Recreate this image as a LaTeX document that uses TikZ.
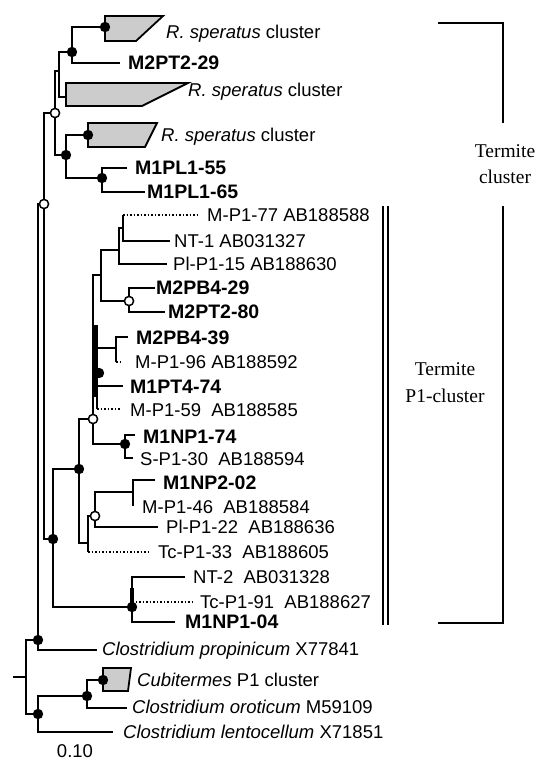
\documentclass[tikz,border=0pt]{standalone}
\usepackage{fontspec}
\setmainfont{Liberation Serif}
\newfontfamily\arialf{Liberation Sans}
\begin{document}
\begin{tikzpicture}[x=1pt,y=-1pt,
  br/.style={line width=2pt, line join=miter},
  dt/.style={line width=1.5pt, dotted},
  clade/.style={line width=1.8pt, fill=black!20, line join=miter},
  bk/.style={line width=1.6pt},
  lbl/.style={anchor=base west, inner sep=0pt, font=\arialf\fontsize{18.5}{20}\selectfont},
  blbl/.style={anchor=base west, inner sep=0pt, font=\arialf\bfseries\fontsize{19.5}{21}\selectfont},
  tms/.style={anchor=base, inner sep=0pt, font=\fontsize{19.5}{22}\selectfont},
  fdot/.style={fill=black},
  odot/.style={fill=white, draw=black, line width=1.5pt}]
\useasboundingbox (0,0) rectangle (541,761);

% ---------- Termite cluster part ----------
\draw[br] (105,27)--(72,27)--(72,63)--(120,63);
\draw[br] (72,52)--(59,52)--(59,97)--(66,97);
\draw[br] (59,71)--(55,71)--(55,155)--(66,155);
\draw[br] (88,135)--(66,135)--(66,178)--(102,178);
\draw[br] (127,168)--(102,168)--(102,192)--(145,192);
\draw[br] (55,113)--(44,113)--(44,539)--(53,539);
\draw[br] (79,469)--(53,469)--(53,607)--(132,607);
\draw[br] (44,204)--(38,204)--(38,650)--(97,650);
\draw[br] (38,640)--(26,640)--(26,714)--(38,714);
\draw[br] (13,677)--(26,677);
\draw[br] (87,696)--(38,696)--(38,732)--(113,732);
\draw[br] (103,680)--(87,680)--(87,708)--(127,708);

% ---------- P1 cluster ----------
\draw[br] (93,419)--(79,419)--(79,543)--(88,543);
\draw[br] (101,275)--(93,275)--(93,444)--(125,444);
\draw[br] (119,250)--(101,250)--(101,301)--(129,301);
\draw[br] (123,228)--(119,228)--(119,264)--(167,264);
\draw[br] (123,215)--(123,241)--(170,241);
\draw[dt] (123,215)--(198,215);
\draw[br] (155,288)--(129,288)--(129,312)--(165,312);
\draw[br] (97,348)--(97,409);
\draw[br] (97,348)--(116,348);
\draw[br] (128,337)--(116,337)--(116,362);
\draw[dt] (116,362)--(123,362);
\draw[br] (97,386)--(123,386);
\draw[dt] (97,409)--(120,409);
\fill (91.5,325) rectangle (97.5,397);
\draw[br] (135,435)--(125,435)--(125,458)--(133,458);
\draw[br] (95,516)--(88,516)--(88,552);
\draw[dt] (88,552)--(150,552);
\draw[br] (155,480)--(133,480)--(133,506);
\draw[br] (133,492)--(95,492)--(95,527)--(158,527);
\draw[br] (185,577)--(132,577)--(132,622)--(175,622);
\draw[line width=3.5pt] (132,588)--(132,603);
\draw[dt] (132,602)--(192,602);

% ---------- collapsed clades ----------
\draw[clade] (105,16)--(163,16)--(136,41)--(105,41)--cycle;
\draw[clade] (66,83)--(188,83)--(142,106)--(66,106)--cycle;
\draw[clade] (88,123)--(157,123)--(145,147)--(88,147)--cycle;
\draw[clade] (103,668)--(131,668)--(128,691)--(103,691)--cycle;

% ---------- node markers ----------
\foreach \p in {(105,27),(72,52),(66,155),(88,135),(102,178),(53,539),(79,469),(132,607),(38,640),(38,714),(87,696),(103,680),(99,373),(125,444)}
  \fill[fdot] \p circle (5.2);
\foreach \p in {(55,113),(44,204),(93,419),(129,301),(95,516)}
  \draw[odot] \p circle (4.6);

% ---------- labels ----------
\node[lbl] (rs1) at (166,38.5) {\itshape R. speratus\upshape{} cluster};
\node[lbl] (rs2) at (188,96.5) {\itshape R. speratus\upshape{} cluster};
\node[lbl] (rs3) at (161,141.5) {\itshape R. speratus\upshape{} cluster};
\node[blbl] (m2pt229) at (128,69.8) {M2PT2-29};
\node[blbl] (m1pl155) at (135,174.8) {M1PL1-55};
\node[blbl] (m1pl165) at (147,198.8) {M1PL1-65};
\node[lbl] (mp177) at (207,221.5) {M-P1-77 AB188588};
\node[lbl] (nt1) at (174,247.5) {NT-1 AB031327};
\node[lbl] (plp115) at (173,270.5) {Pl-P1-15 AB188630};
\node[blbl] (m2pb429) at (156,294.8) {M2PB4-29};
\node[blbl] (m2pt280) at (168,318.8) {M2PT2-80};
\node[blbl] (m2pb439) at (136,344.8) {M2PB4-39};
\node[lbl] (mp196) at (135,368.5) {M-P1-96 AB188592};
\node[blbl] (m1pt474) at (130,393.8) {M1PT4-74};
\node[lbl] (mp159) at (130,416.5) {M-P1-59\ \ AB188585};
\node[blbl] (m1np174) at (143,443.8) {M1NP1-74};
\node[lbl] (sp130) at (140,465.5) {S-P1-30\ \ AB188594};
\node[blbl] (m1np202) at (163,489.8) {M1NP2-02};
\node[lbl] (mp146) at (142,513.5) {M-P1-46\ \ AB188584};
\node[lbl] (plp122) at (166,533.5) {Pl-P1-22\ \ AB188636};
\node[lbl] (tcp133) at (158,558.5) {Tc-P1-33\ \ AB188605};
\node[lbl] (nt2) at (193,583.5) {NT-2\ \ AB031328};
\node[lbl] (tcp191) at (200,608.5) {Tc-P1-91\ \ AB188627};
\node[blbl] (m1np104) at (185,628.8) {M1NP1-04};
\node[lbl] (cprop) at (102,655.5) {\itshape Clostridium propinicum\upshape{} X77841};
\node[lbl] (cubi) at (137,686.5) {\itshape Cubitermes\upshape{} P1 cluster};
\node[lbl] (corot) at (132,713.5) {\itshape Clostridium oroticum\upshape{} M59109};
\node[lbl] (clent) at (123,738.5) {\itshape Clostridium lentocellum\upshape{} X71851};
\node[lbl, anchor=base] (scale) at (75,757.5) {0.10};

% ---------- brackets ----------
\draw[bk] (438,23)--(503,23)--(503,123);
\node[tms] (tc1) at (505,157) {Termite};
\node[tms] (tc2) at (505,183) {cluster};
\draw[bk] (383,206)--(383,625);
\draw[bk] (388,206)--(388,625);
\draw[bk] (503,206)--(503,623)--(438,623);
\node[tms] (tp1) at (445,375) {Termite};
\node[tms] (tp2) at (445,402) {P1-cluster};
\end{tikzpicture}
\end{document}
